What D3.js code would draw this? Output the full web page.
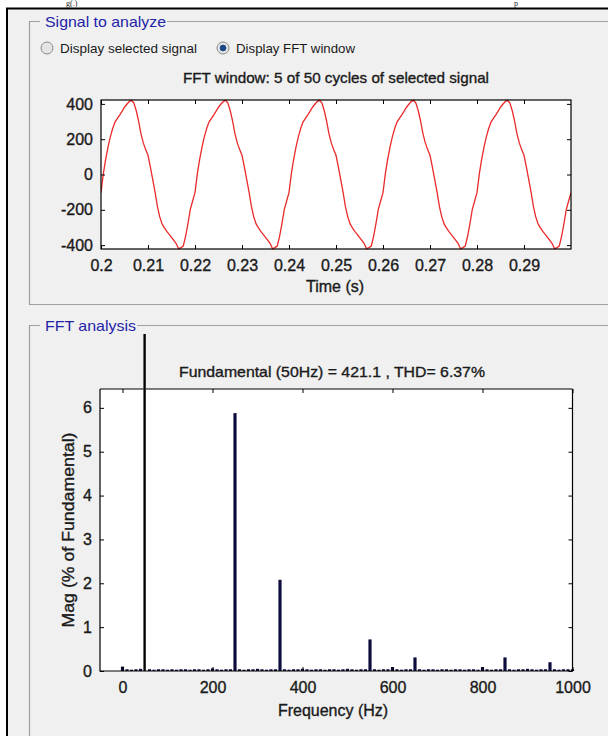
<!DOCTYPE html>
<html>
<head>
<meta charset="utf-8">
<script src="https://cdn.jsdelivr.net/npm/d3@7"></script>
<style>
  body { margin: 0; background: #fff; }
  svg { display: block; font-family: "Liberation Sans", Arial, sans-serif; }
</style>
</head>
<body>
<svg id="chart" width="608" height="736"></svg>
<script>
// signal in the FFT window, sampled every 0.5 ms from t = 0.2 s (5 cycles)
const sampleStep = 0.0005;
const signalValues = [
  -103, 5, 87, 157, 215, 262, 298, 318, 338, 359, 381, 398, 413, 421, 404, 361, 302, 231, 179, 141, 109, 43, -28, -100, -181, -240, -280, -302, -322, -339, -356, -373, -391, -421, -414, -405, -350, -278, -197, -150,
  -103, 5, 87, 157, 215, 262, 298, 318, 338, 359, 381, 398, 413, 421, 404, 361, 302, 231, 179, 141, 109, 43, -28, -100, -181, -240, -280, -302, -322, -339, -356, -373, -391, -421, -414, -405, -350, -278, -197, -150,
  -103, 5, 87, 157, 215, 262, 298, 318, 338, 359, 381, 398, 413, 421, 404, 361, 302, 231, 179, 141, 109, 43, -28, -100, -181, -240, -280, -302, -322, -339, -356, -373, -391, -421, -414, -405, -350, -278, -197, -150,
  -103, 5, 87, 157, 215, 262, 298, 318, 338, 359, 381, 398, 413, 421, 404, 361, 302, 231, 179, 141, 109, 43, -28, -100, -181, -240, -280, -302, -322, -339, -356, -373, -391, -421, -414, -405, -350, -278, -197, -150,
  -103, 5, 87, 157, 215, 262, 298, 318, 338, 359, 381, 398, 413, 421, 404, 361, 302, 231, 179, 141, 109, 43, -28, -100, -181, -240, -280, -302, -322, -339, -356, -373, -391, -421, -414, -405, -350, -278, -197, -150,
  -103
];
const timeTicks = [0.2, 0.21, 0.22, 0.23, 0.24, 0.25, 0.26, 0.27, 0.28, 0.29];
const signalTicks = [-400, -200, 0, 200, 400];

// FFT magnitudes (% of fundamental), one bin every 10 Hz from 0 to 1000 Hz
const freqBins = d3.range(0, 1010, 10);
const fftMag = [
  0.10,
  0.04, 0.03, 0.04, 0.05,
  100,
  0.04, 0.03, 0.04, 0.04, 0.03, 0.04, 0.03, 0.04, 0.04, 0.03, 0.04, 0.04, 0.03, 0.04, 0.06, 0.04, 0.03, 0.04, 0.04,
  5.88,
  0.04, 0.03, 0.04, 0.04, 0.05, 0.04, 0.03, 0.04, 0.04,
  2.08,
  0.04, 0.03, 0.04, 0.04, 0.05, 0.04, 0.03, 0.04, 0.04, 0.03, 0.04, 0.04, 0.03, 0.04, 0.05, 0.04, 0.03, 0.04, 0.04,
  0.72,
  0.04, 0.03, 0.04, 0.04,
  0.09,
  0.04, 0.03, 0.04, 0.04,
  0.31,
  0.04, 0.03, 0.04, 0.04, 0.03, 0.04, 0.04, 0.03, 0.04, 0.04, 0.03, 0.04, 0.04, 0.03,
  0.09,
  0.04, 0.03, 0.04, 0.04,
  0.31,
  0.04, 0.03, 0.04, 0.04, 0.05, 0.04, 0.03, 0.04, 0.04,
  0.20,
  0.04, 0.03, 0.04, 0.04, 0.04
];
const fundamentalFreq = 50;
const freqTicks = [0, 200, 400, 600, 800, 1000];
const magTicks = [0, 1, 2, 3, 4, 5, 6];

const svg = d3.select("#chart");
const plain = d => String(d);
const ink = "#1a1a1a";

// page background, frame and the caption fragment above
svg.append("rect").attr("width", 608).attr("height", 736).attr("fill", "#fff");
svg.append("rect").attr("x", 8).attr("y", 9).attr("width", 600).attr("height", 727).attr("fill", "#f0f0f0");
svg.append("path").attr("d", "M7,736V8.5H608").attr("fill", "none").attr("stroke", "#000").attr("stroke-width", 2);

const cap = svg.append("g")
  .style("font-family", "'Liberation Serif', 'Times New Roman', serif").style("font-size", "8px").attr("fill", "#222");
cap.append("text").attr("x", 66).attr("y", 6).text("g(.)");
cap.append("text").attr("x", 514).attr("y", 6).text("p");

// heavier text, like the blurred screenshot lettering
function heavy(sel) {
  return sel.attr("fill", ink).attr("stroke", ink).attr("stroke-width", 0.35);
}

// group boxes
function groupBox(y0, y1, label, labelEnd) {
  const g = svg.append("g");
  const d = y1 != null
    ? `M40,${y0}H29.5V${y1}H608`
    : `M40,${y0}H29.5V736`;
  g.append("path").attr("d", d).attr("fill", "none").attr("stroke", "#a0a0a0").attr("stroke-width", 1.2);
  g.append("path").attr("d", `M${labelEnd},${y0}H608`).attr("fill", "none").attr("stroke", "#a0a0a0").attr("stroke-width", 1.2);
  g.append("text").attr("x", 45).attr("y", y0 + 5.5)
    .attr("font-size", 15).attr("fill", "#2323a8")
    .attr("textLength", labelEnd - 46).attr("lengthAdjust", "spacingAndGlyphs").text(label);
  return g;
}
groupBox(21.5, 304.5, "Signal to analyze", 167);
groupBox(325.5, null, "FFT analysis", 137);

// radio buttons
function radio(cx, cy, label, on, len) {
  svg.append("circle").attr("cx", cx).attr("cy", cy).attr("r", 6)
    .attr("fill", "#e4e4e4").attr("stroke", "#8a8a8a").attr("stroke-width", 1);
  if (on) {
    svg.append("circle").attr("cx", cx).attr("cy", cy).attr("r", 3.2).attr("fill", "#1c4a86");
  }
  svg.append("text").attr("x", cx + 13).attr("y", cy + 4.5)
    .attr("font-size", 13).attr("fill", ink)
    .attr("textLength", len).attr("lengthAdjust", "spacingAndGlyphs").text(label);
}
radio(47, 48, "Display selected signal", false, 137);
radio(223, 48, "Display FFT window", true, 119);

function styleAxis(g) {
  g.select(".domain").remove();
  g.selectAll(".tick line").attr("stroke", "#000");
  g.selectAll(".tick text").attr("font-size", 16).call(heavy);
}

// ---------- top axes: time signal ----------
const x1 = d3.scaleLinear().domain([0.2, 0.3]).range([101, 571]);
const y1 = d3.scaleLinear().domain([-422, 422]).range([249, 100]);

svg.append("text").attr("x", 336).attr("y", 83).attr("text-anchor", "middle")
  .attr("font-size", 15).call(heavy)
  .attr("textLength", 306).attr("lengthAdjust", "spacingAndGlyphs")
  .text("FFT window: 5 of 50 cycles of selected signal");

svg.append("rect").attr("x", 101).attr("y", 100).attr("width", 470).attr("height", 149).attr("fill", "#fff");

const clip1 = svg.append("clipPath").attr("id", "clip1");
clip1.append("rect").attr("x", 101).attr("y", 99).attr("width", 470).attr("height", 151);

const line = d3.line()
  .x((d, i) => x1(0.2 + i * sampleStep))
  .y(d => y1(d));

svg.append("path").datum(signalValues)
  .attr("clip-path", "url(#clip1)")
  .attr("d", line).attr("fill", "none")
  .attr("stroke", "#ea2a2a").attr("stroke-width", 1.3);

svg.append("g").attr("transform", "translate(0,249)")
  .call(d3.axisBottom(x1).tickValues(timeTicks).tickFormat(plain).tickSizeInner(-4).tickSizeOuter(0).tickPadding(11))
  .call(styleAxis);
svg.append("g").attr("transform", "translate(0,100)")
  .call(d3.axisTop(x1).tickValues(timeTicks).tickFormat("").tickSizeInner(-4).tickSizeOuter(0))
  .call(styleAxis);
svg.append("g").attr("transform", "translate(101,0)")
  .call(d3.axisLeft(y1).tickValues(signalTicks).tickFormat(plain).tickSizeInner(-4).tickSizeOuter(0).tickPadding(8))
  .call(styleAxis);
svg.append("g").attr("transform", "translate(571,0)")
  .call(d3.axisRight(y1).tickValues(signalTicks).tickFormat("").tickSizeInner(-4).tickSizeOuter(0))
  .call(styleAxis);

svg.append("rect").attr("x", 101).attr("y", 100).attr("width", 470).attr("height", 149)
  .attr("fill", "none").attr("stroke", "#000").attr("stroke-width", 1.2);

svg.append("text").attr("x", 335).attr("y", 292).attr("text-anchor", "middle")
  .attr("font-size", 16).call(heavy).text("Time (s)");

// ---------- bottom axes: FFT spectrum ----------
const x2 = d3.scaleLinear().domain([-50, 1000]).range([100, 572.5]);
const y2 = d3.scaleLinear().domain([0, 6.43]).range([671, 389]);

svg.append("text").attr("x", 332).attr("y", 377).attr("text-anchor", "middle")
  .attr("font-size", 15).call(heavy)
  .attr("textLength", 306).attr("lengthAdjust", "spacingAndGlyphs")
  .text("Fundamental (50Hz) = 421.1 , THD= 6.37%");

svg.append("rect").attr("x", 100).attr("y", 389).attr("width", 472.5).attr("height", 282).attr("fill", "#fff");

const clip2 = svg.append("clipPath").attr("id", "clip2");
clip2.append("rect").attr("x", 30).attr("y", 334).attr("width", 578).attr("height", 402);

const barW = x2(7) - x2(0);
const bins = freqBins.map((f, i) => ({ f: f, v: fftMag[i] }));

svg.append("g").attr("clip-path", "url(#clip2)")
  .selectAll("rect")
  .data(bins)
  .join("rect")
  .attr("x", d => x2(d.f) - barW / 2)
  .attr("width", d => d.f === fundamentalFreq ? barW * 0.75 : barW)
  .attr("y", d => y2(d.v))
  .attr("height", d => y2(0) - y2(d.v))
  .attr("fill", d => d.f === fundamentalFreq ? "#000" : "#0b0b3c");

svg.append("g").attr("transform", "translate(0,671)")
  .call(d3.axisBottom(x2).tickValues(freqTicks).tickFormat(plain).tickSizeInner(-4).tickSizeOuter(0).tickPadding(11))
  .call(styleAxis);
svg.append("g").attr("transform", "translate(0,389)")
  .call(d3.axisTop(x2).tickValues(freqTicks).tickFormat("").tickSizeInner(-4).tickSizeOuter(0))
  .call(styleAxis);
svg.append("g").attr("transform", "translate(100,0)")
  .call(d3.axisLeft(y2).tickValues(magTicks).tickFormat(plain).tickSizeInner(-4).tickSizeOuter(0).tickPadding(8))
  .call(styleAxis);
svg.append("g").attr("transform", "translate(572.5,0)")
  .call(d3.axisRight(y2).tickValues(magTicks).tickFormat("").tickSizeInner(-4).tickSizeOuter(0))
  .call(styleAxis);

svg.append("path").attr("d", "M100,389V671H572.5V389")
  .attr("fill", "none").attr("stroke", "#000").attr("stroke-width", 1.2);
svg.append("path").attr("d", "M100,389H143.5M146,389H572.5")
  .attr("fill", "none").attr("stroke", "#000").attr("stroke-width", 1.2);

svg.append("text").attr("x", 333).attr("y", 716).attr("text-anchor", "middle")
  .attr("font-size", 16).call(heavy).text("Frequency (Hz)");

svg.append("text").attr("transform", "translate(74,530) rotate(-90)").attr("text-anchor", "middle")
  .attr("font-size", 16).call(heavy)
  .attr("textLength", 195).attr("lengthAdjust", "spacingAndGlyphs")
  .text("Mag (% of Fundamental)");
</script>
</body>
</html>
